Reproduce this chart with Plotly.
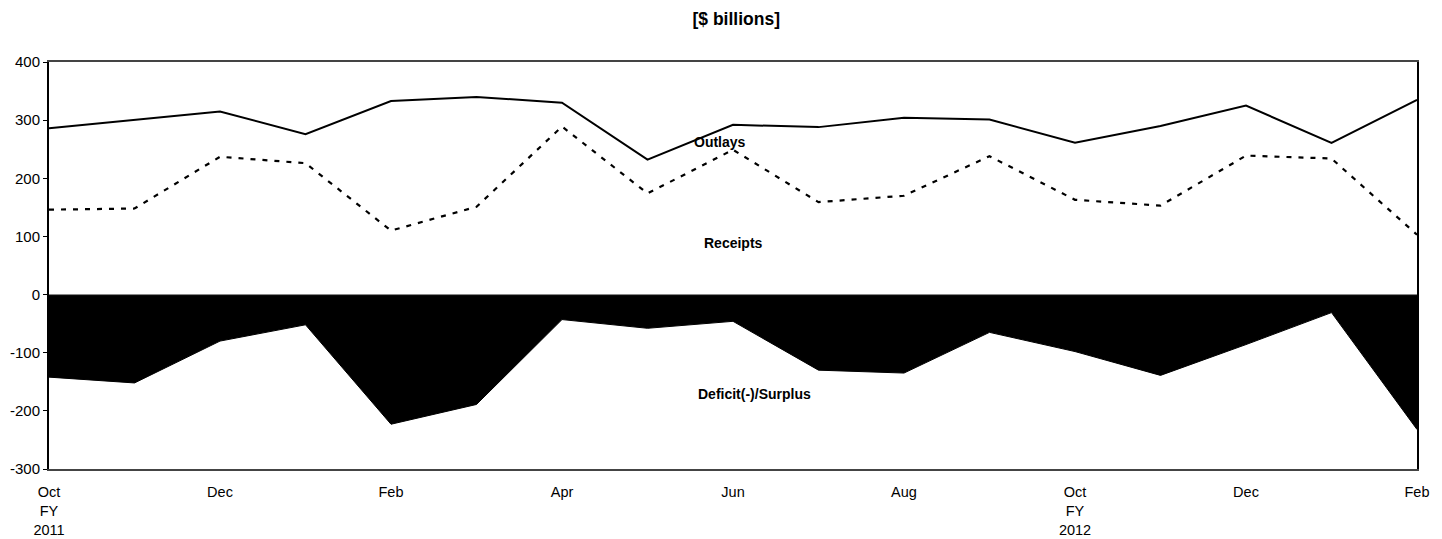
import plotly.graph_objects as go

# Monthly budget figures, Oct FY2011 .. Feb FY2012 ($ billions)
months = ["Oct", "Nov", "Dec", "Jan", "Feb", "Mar", "Apr", "May", "Jun",
          "Jul", "Aug", "Sep", "Oct", "Nov", "Dec", "Jan", "Feb"]
outlays = [286, 300, 315, 276, 333, 340, 330, 232, 292, 288, 304, 301, 261, 290, 325, 261, 335]
receipts = [146, 148, 237, 226, 110, 151, 289, 174, 249, 159, 170, 238, 163, 153, 239, 234, 103]
deficit = [-142, -152, -80, -52, -223, -189, -43, -58, -46, -130, -135, -65, -98, -139, -86, -31, -232]

tick_idx = [0, 2, 4, 6, 8, 10, 12, 14, 16]
tick_text = ["Oct<br>FY<br>2011", "Dec", "Feb", "Apr", "Jun", "Aug", "Oct<br>FY<br>2012", "Dec", "Feb"]
y_vals = [-300, -200, -100, 0, 100, 200, 300, 400]
y_text = ["-300", "-200", "-100", "0", "100", "200", "300", "400"]

x = list(range(len(months)))
FONT = "Liberation Sans, Arial, sans-serif"

fig = go.Figure()

# deficit area
fig.add_trace(go.Scatter(
    x=x, y=deficit, mode="lines", fill="tozeroy",
    fillcolor="black", line=dict(color="black", width=1),
    name="Deficit(-)/Surplus",
))

fig.add_trace(go.Scatter(
    x=x, y=receipts, mode="lines",
    line=dict(color="black", width=2.2, dash="5px,7px"),
    name="Receipts",
))

fig.add_trace(go.Scatter(
    x=x, y=outlays, mode="lines",
    line=dict(color="black", width=2),
    name="Outlays",
))

# zero line
fig.add_hline(y=0, line_color="#888888", line_width=1)

labels = [
    ("Outlays", 7.85, 262),
    ("Receipts", 8, 88),
    ("Deficit(-)/Surplus", 8.25, -171),
]
for txt, lx, ly in labels:
    fig.add_annotation(x=lx, y=ly, text="<b>" + txt + "</b>", showarrow=False,
                       font=dict(family=FONT, size=14, color="black"))

# the page body has an 8px margin, so margins are offset by that
fig.update_layout(
    width=1442, height=539,
    margin=dict(l=41, r=33, t=54, b=78),
    paper_bgcolor="white", plot_bgcolor="white",
    showlegend=False,
    font=dict(family=FONT, size=14.5, color="black"),
    title=dict(text="<b>[$ billions]</b>", x=0.505, xanchor="center",
               y=0.98, yanchor="middle",
               font=dict(family=FONT, size=17.5, color="black")),
)

fig.update_xaxes(
    range=[0, 16], tickmode="array", tickvals=tick_idx, ticktext=tick_text,
    showgrid=False, zeroline=False, ticks="", ticklabelstandoff=9,
    showline=True, linecolor="#444444", linewidth=2, mirror=True,
    tickfont=dict(family=FONT, size=14.5), automargin=False,
)
fig.update_yaxes(
    range=[-300, 400], tickmode="array", tickvals=y_vals, ticktext=y_text,
    showgrid=False, zeroline=False,
    ticks="outside", ticklen=4, tickcolor="black",
    showline=True, linecolor="black", linewidth=2, mirror=True,
    tickfont=dict(family=FONT, size=15), automargin=False,
)

fig.write_html("out.html")
